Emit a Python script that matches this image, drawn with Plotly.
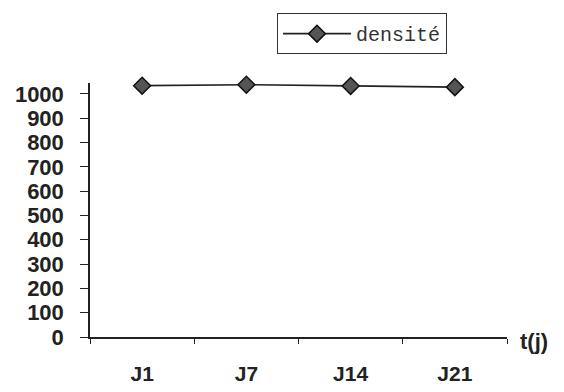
import plotly.graph_objects as go

categories = ["J1", "J7", "J14", "J21"]
densite = [1034, 1038, 1033, 1028]
y_ticks = [0, 100, 200, 300, 400, 500, 600, 700, 800, 900, 1000]

fig = go.Figure()
fig.add_trace(go.Scatter(
    x=categories, y=densite, mode="lines+markers", name="densité",
    line=dict(color="#222222", width=1.6),
    marker=dict(symbol="diamond", size=13, color="#555555",
                line=dict(color="#111111", width=1.5)),
    cliponaxis=False,
))

fig.update_layout(
    width=564, height=392,
    margin=dict(l=90, r=57, t=83, b=55, autoexpand=False),
    paper_bgcolor="white", plot_bgcolor="white",
    showlegend=True,
    legend=dict(
        x=(277 - 90) / 417, y=(337.5 - 13) / 254.5, xanchor="left", yanchor="top",
        bordercolor="#333333", borderwidth=1, bgcolor="white",
        font=dict(family="Liberation Mono", size=20, color="#333333"),
        itemwidth=68,
    ),
    xaxis=dict(
        type="category", tickson="boundaries", ticks="outside", ticklen=5,
        tickcolor="#222222", tickwidth=1.3,
        showline=True, linecolor="#222222", linewidth=1.5,
        showgrid=False, zeroline=False, automargin=False,
        tickfont=dict(family="Liberation Sans", size=21, color="#222222", weight="bold"),
        ticklabelstandoff=17,
        range=[-0.5, 3.5],
    ),
    yaxis=dict(
        range=[0, 1045], tickvals=y_ticks, ticks="outside", ticklen=8,
        tickcolor="#222222", tickwidth=1.3,
        showline=True, linecolor="#222222", linewidth=1.5,
        showgrid=False, zeroline=False, automargin=False,
        tickfont=dict(family="Liberation Sans", size=22, color="#222222", weight="bold"),
        ticklabelstandoff=12,
    ),
    annotations=[dict(
        text="t(j)", xref="paper", yref="paper",
        x=(518 - 90) / 417, y=(337.5 - 342) / 254.5,
        xanchor="left", yanchor="middle", showarrow=False,
        font=dict(family="Liberation Sans", size=22, color="#222222", weight="bold"),
    )],
)

fig.write_html("out.html")
